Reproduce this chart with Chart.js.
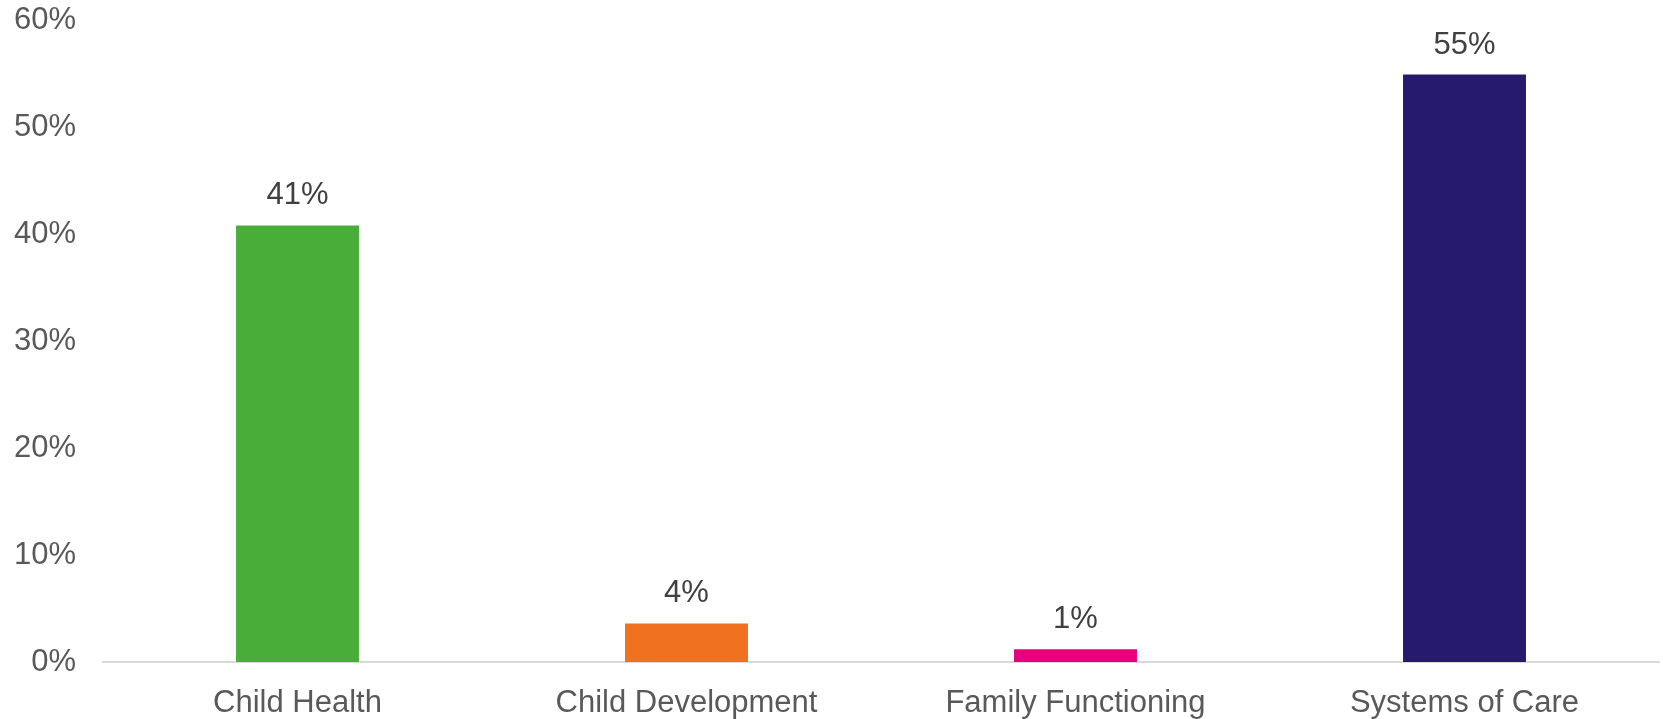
<!DOCTYPE html>
<html>
<head>
<meta charset="utf-8">
<script src="https://cdn.jsdelivr.net/npm/chart.js@4.4.1/dist/chart.umd.min.js"></script>
<style>
    html, body { margin: 0; padding: 0; background: #ffffff; }
    #wrap { width: 1663px; height: 719px; position: relative; }
</style>
</head>
<body>
<div id="wrap"><canvas id="domainChart"></canvas></div>
<script>
// chart data
var categories = ['Child Health', 'Child Development', 'Family Functioning', 'Systems of Care'];
var shares = [40.8, 3.6, 1.2, 54.9];
var barColors = ['#48ae39', '#f07120', '#e6007e', '#261a6e'];
var yTicks = [0, 10, 20, 30, 40, 50, 60];

var fontFamily = '"Liberation Sans", Arial, sans-serif';

// value labels above each bar
var barLabels = {
    id: 'barLabels',
    afterDatasetsDraw: function(chart) {
        var ctx = chart.ctx;
        var meta = chart.getDatasetMeta(0);
        ctx.save();
        ctx.font = '31px ' + fontFamily;
        ctx.fillStyle = '#404040';
        ctx.textAlign = 'center';
        ctx.textBaseline = 'alphabetic';
        meta.data.forEach(function(bar, i) {
            ctx.fillText(Math.round(shares[i]) + '%', bar.x, bar.y - 21);
        });
        ctx.restore();
    }
};

document.addEventListener('DOMContentLoaded', function() {
    var ctx = document.getElementById('domainChart').getContext('2d');
    var domainChart = new Chart(ctx, {
        type: 'bar',
        data: {
            labels: categories,
            datasets: [{
                label: 'Share',
                data: shares,
                backgroundColor: barColors,
                borderWidth: 0,
                categoryPercentage: 1,
                barPercentage: 0.316
            }]
        },
        options: {
            responsive: true,
            maintainAspectRatio: false,
            animation: false,
            layout: {
                padding: { top: 0, right: 4, bottom: 0, left: 13 }
            },
            plugins: {
                legend: { display: false },
                tooltip: { enabled: false }
            },
            scales: {
                x: {
                    grid: { display: false, drawTicks: false },
                    border: { display: true, color: '#d9d9d9', width: 2 },
                    ticks: {
                        color: '#595959',
                        font: { family: fontFamily, size: 31 },
                        padding: 23,
                        maxRotation: 0
                    },
                    afterFit: function(scale) { scale.height = 57; }
                },
                y: {
                    min: 0,
                    max: 60,
                    grid: { display: false, drawTicks: false },
                    border: { display: false },
                    ticks: {
                        stepSize: 10,
                        color: '#595959',
                        font: { family: fontFamily, size: 31 },
                        padding: 27,
                        callback: function(value) {
                            return yTicks.indexOf(value) >= 0 ? value + '%' : '';
                        }
                    },
                    afterFit: function(scale) {
                        scale.width = 90;
                        scale.paddingTop = 20;
                        scale.paddingBottom = 0;
                    }
                }
            }
        },
        plugins: [barLabels]
    });
});
</script>
</body>
</html>
